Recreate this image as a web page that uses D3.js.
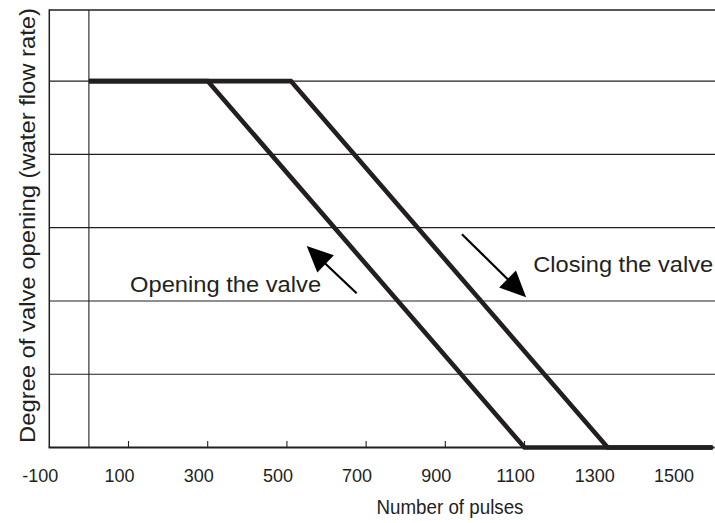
<!DOCTYPE html>
<html>
<head>
<meta charset="utf-8">
<script src="https://cdn.jsdelivr.net/npm/d3@7"></script>
<style>
  html, body { margin: 0; padding: 0; background: #fff; }
  svg { display: block; font-family: "Liberation Sans", Arial, Helvetica, sans-serif; }
</style>
</head>
<body>
<svg id="chart" width="715" height="523"></svg>
<script>
// ---- data ----
const xTickLabels = [-100, 100, 300, 500, 700, 900, 1100, 1300, 1500];
const xTickMarks = [100, 300, 500, 700, 900, 1100];
const yGridValues = [20, 40, 60, 80, 100];
const openingPulses = [0, 300, 1100, 1575];
const openingDegree = [100, 100, 0, 0];
const closingPulses = [0, 510, 1310, 1575];
const closingDegree = [100, 100, 0, 0];
const arrowOpening = { from: [676, 42.1], to: [550, 55] };
const arrowClosing = { from: [942, 58.2], to: [1104, 41] };
const labelOpening = { text: "Opening the valve", at: [104, 42.5] };
const labelClosing = { text: "Closing the valve", at: [1122, 48] };
const xTitle = "Number of pulses";
const yTitle = "Degree of valve opening (water flow rate)";

// ---- layout ----
const INK = "#231f20";
const svg = d3.select("#chart");
const x = d3.scaleLinear().domain([-100, 1580]).range([49.3, 714.6]);
const y = d3.scaleLinear().domain([0, 119.4]).range([447.5, 10]);
const [x0, x1] = x.range();
const [yb, yt] = y.range();

// grid lines
svg.append("g").selectAll("line").data(yGridValues).join("line")
  .attr("x1", x0).attr("x2", 715)
  .attr("y1", d => y(d)).attr("y2", d => y(d))
  .attr("stroke", INK).attr("stroke-width", 1.1);

// top frame line
svg.append("line").attr("x1", x0).attr("x2", 715).attr("y1", yt).attr("y2", yt)
  .attr("stroke", INK).attr("stroke-width", 1.4);
// left frame line
svg.append("line").attr("x1", x0).attr("x2", x0).attr("y1", yt - 0.7).attr("y2", yb)
  .attr("stroke", INK).attr("stroke-width", 1.5);
// zero line
svg.append("line").attr("x1", x(0)).attr("x2", x(0)).attr("y1", yt).attr("y2", yb)
  .attr("stroke", INK).attr("stroke-width", 1.1);

// x axis
const xAxis = d3.axisBottom(x).tickValues(xTickLabels).tickSizeInner(0).tickSizeOuter(0).tickFormat(d => String(d));
const gx = svg.append("g").attr("transform", `translate(0,${yb})`).call(xAxis);
gx.select(".domain").attr("stroke", INK).attr("stroke-width", 2).attr("d", `M${x0 - 0.7},0H${x1}`);
gx.selectAll(".tick text")
  .attr("fill", INK).attr("font-size", 18).attr("dy", null)
  .attr("y", 34).attr("x", -9.5)
  .attr("font-family", "'Liberation Sans', Arial, sans-serif");
gx.attr("font-size", null).attr("font-family", null);
// tick marks (pointing up)
svg.append("g").selectAll("line").data(xTickMarks).join("line")
  .attr("x1", d => x(d)).attr("x2", d => x(d))
  .attr("y1", yb).attr("y2", yb - 6.5)
  .attr("stroke", INK).attr("stroke-width", 1.1);

// data lines
const line = d3.line().x(d => x(d[0])).y(d => y(d[1]));
const series = [
  d3.zip(openingPulses, openingDegree),
  d3.zip(closingPulses, closingDegree)
];
svg.append("g").selectAll("path").data(series).join("path")
  .attr("d", line).attr("fill", "none")
  .attr("stroke", INK).attr("stroke-width", 4.6)
  .attr("stroke-linejoin", "miter");

// arrows
function arrow(a) {
  const p0 = [x(a.from[0]), y(a.from[1])];
  const p1 = [x(a.to[0]), y(a.to[1])];
  const dx = p1[0] - p0[0], dy = p1[1] - p0[1];
  const L = Math.hypot(dx, dy), ux = dx / L, uy = dy / L;
  const headLen = 26, headHalf = 12;
  const bx = p1[0] - ux * headLen, by = p1[1] - uy * headLen;
  svg.append("line")
    .attr("x1", p0[0]).attr("y1", p0[1]).attr("x2", bx + ux * 2).attr("y2", by + uy * 2)
    .attr("stroke", "#000").attr("stroke-width", 2.2);
  svg.append("path")
    .attr("d", `M${p1[0]},${p1[1]}L${bx - uy * headHalf},${by + ux * headHalf}L${bx + uy * headHalf},${by - ux * headHalf}Z`)
    .attr("fill", "#000");
}
arrow(arrowOpening);
arrow(arrowClosing);

// annotation labels
[[labelOpening, 191], [labelClosing, 180]].forEach(([l, len]) => {
  svg.append("text").attr("x", x(l.at[0])).attr("y", y(l.at[1]))
    .attr("font-size", 22).attr("fill", INK)
    .attr("textLength", len).attr("lengthAdjust", "spacingAndGlyphs")
    .text(l.text);
});

// axis titles
svg.append("text").attr("x", 376.5).attr("y", 514)
  .attr("font-size", 20).attr("fill", INK)
  .attr("textLength", 147).attr("lengthAdjust", "spacingAndGlyphs").text(xTitle);
svg.append("text").attr("transform", "translate(34.5,443) rotate(-90)")
  .attr("font-size", 21.5).attr("fill", INK)
  .attr("textLength", 435).attr("lengthAdjust", "spacingAndGlyphs").text(yTitle);
</script>
</body>
</html>
